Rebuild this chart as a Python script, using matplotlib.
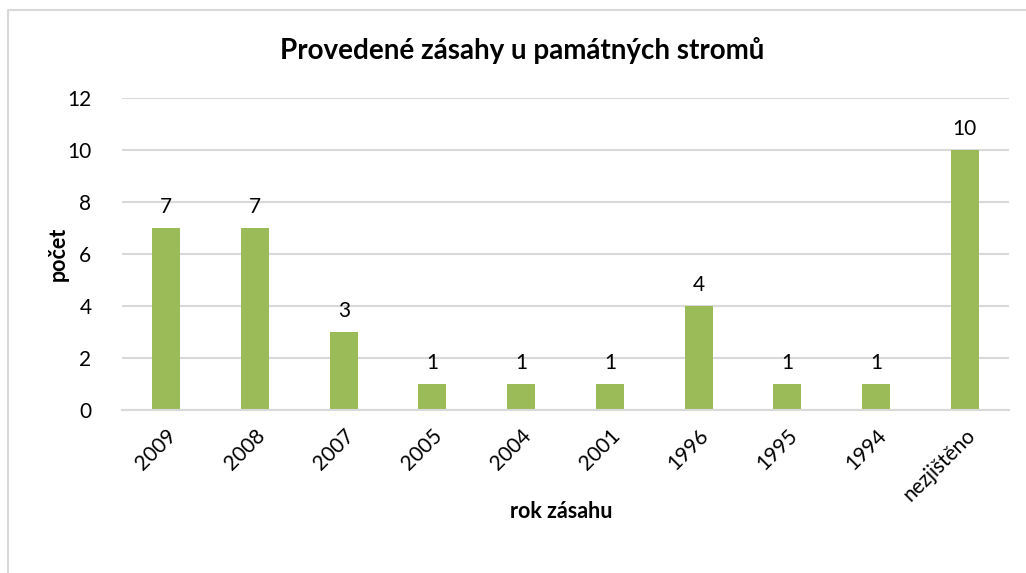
import matplotlib.pyplot as plt
from matplotlib.lines import Line2D

# data
roky = ["2009", "2008", "2007", "2005", "2004", "2001", "1996", "1995", "1994", "nezjištěno"]
pocty = [7, 7, 3, 1, 1, 1, 4, 1, 1, 10]
y_ticks = [0, 2, 4, 6, 8, 10, 12]

BAR = "#9BBB59"
GRID = "#D9D9D9"
plt.rcParams["font.family"] = ["Lato", "DejaVu Sans"]

W, H = 1026, 573
fig = plt.figure(figsize=(W / 100, H / 100), dpi=100)
ax = fig.add_axes([122 / W, (H - 410) / H, (1009 - 122) / W, (410 - 98) / H])

x = list(range(len(roky)))
bars = ax.bar(x, pocty, width=0.316, color=BAR, zorder=3)
for b, v in zip(bars, pocty):
    ax.annotate(str(v), (b.get_x() + b.get_width() / 2, v), xytext=(0, 11),
                textcoords="offset pixels", ha="center", va="bottom", fontsize=15)

ax.set_xlim(-0.5, len(roky) - 0.5)
ax.set_ylim(0, 12)
ax.set_yticks(y_ticks)
ax.set_xticks(x)
ax.set_xticklabels(roky, rotation=45, ha="right", va="top", rotation_mode="anchor")
ax.tick_params(axis="both", length=0, labelsize=15)
ax.tick_params(axis="x", pad=11)
ax.tick_params(axis="y", pad=22)
ax.yaxis.grid(True, color=GRID, linewidth=1.5, zorder=0)
for s in ["top", "right", "left"]:
    ax.spines[s].set_visible(False)
ax.spines["bottom"].set_color(GRID)
ax.spines["bottom"].set_linewidth(1.5)
ax.spines["bottom"].set_zorder(4)

fig.text(522 / W, 1 - 50 / H, "Provedené zásahy u památných stromů",
         ha="center", va="center", fontsize=20, fontweight="bold")
fig.text(561 / W, 1 - 511 / H, "rok zásahu", ha="center", va="center",
         fontsize=15.5, fontweight="bold")
fig.text(58 / W, 1 - 254 / H, "počet", ha="center", va="center", rotation=90,
         fontsize=15.5, fontweight="bold")

# chart area border (only top and left visible in the crop)
fig.add_artist(Line2D([8 / W, 8 / W, 1.01], [-0.01, 1 - 10 / H, 1 - 10 / H],
                      transform=fig.transFigure, color=GRID, linewidth=1.5))

fig.savefig("out.png", dpi=100)
